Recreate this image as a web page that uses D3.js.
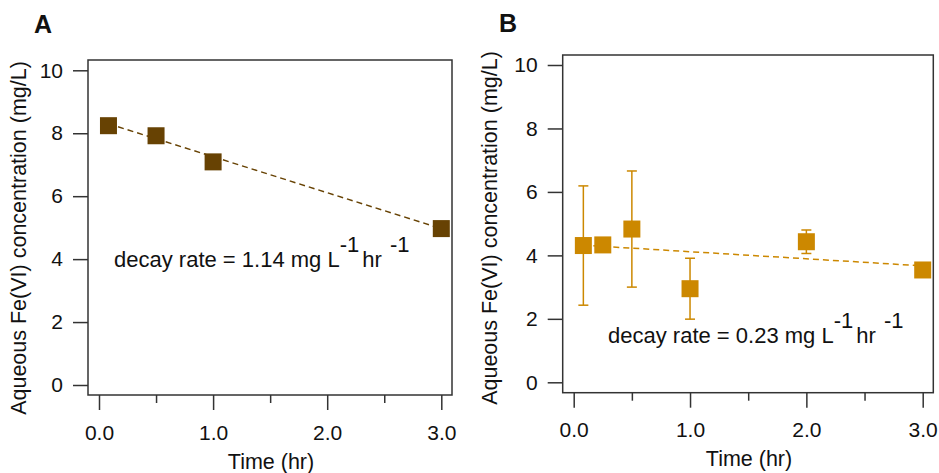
<!DOCTYPE html>
<html>
<head>
  <meta charset="utf-8">
  <script src="https://d3js.org/d3.v7.min.js"></script>
  <style>
    body { margin: 0; background: #fff; }
    svg text { font-family: "Liberation Sans", Arial, sans-serif; fill: #111; }
    .frame { fill: none; stroke: #333; stroke-width: 1.5; }
    .tick line { stroke: #333; stroke-width: 1.5; }
  </style>
</head>
<body>
<div id="chart"></div>
<script>

const width = 939;
const height = 473;

// Panel A values
const timeA = [0.083, 0.5, 1.0, 3.0];
const concA = [8.24, 7.92, 7.09, 4.97];
const fitTimeA = [0.083, 3.0];
const fitConcA = [8.30, 4.97];

// Panel B values (with error bars)
const timeB = [0.083, 0.25, 0.5, 1.0, 2.0, 3.0];
const concB = [4.31, 4.33, 4.83, 2.95, 4.43, 3.54];
const errB = [1.88, 0.05, 1.83, 0.96, 0.37, 0.10];
const fitTimeB = [0.083, 3.0];
const fitConcB = [4.32, 3.67];

// ticks
const xMajor = [0, 1, 2, 3];
const xMinor = [0.5, 1.5, 2.5];
const yTicks = [0, 2, 4, 6, 8, 10];
const xTitle = "Time (hr)";
const yTitle = "Aqueous Fe(VI) concentration (mg/L)";

const svg = d3.select("#chart").append("svg")
    .attr("width", width)
    .attr("height", height);

function drawPanel(p) {
  const x = d3.scaleLinear().domain([0, 3]).range([p.x0, p.x3]);
  const y = d3.scaleLinear().domain([0, 10]).range([p.y0, p.y10]);
  const g = svg.append("g");

  // frame
  g.append("rect").attr("class", "frame")
    .attr("x", p.left).attr("y", p.top)
    .attr("width", p.right - p.left).attr("height", p.bottom - p.top);

  // y axis
  const yAx = g.append("g")
    .attr("transform", `translate(${p.left},0)`)
    .call(d3.axisLeft(y).tickValues(yTicks).tickFormat(d3.format("d"))
      .tickSize(15).tickPadding(10));
  yAx.select(".domain").remove();
  yAx.selectAll("text").style("font-size", "21px");

  // x axis, major + minor
  const xAx = g.append("g")
    .attr("transform", `translate(0,${p.bottom})`)
    .call(d3.axisBottom(x).tickValues(xMajor).tickFormat(d3.format(".1f"))
      .tickSize(15).tickPadding(p.xPad));
  xAx.select(".domain").remove();
  xAx.selectAll("text").style("font-size", "21px");
  const xMin = g.append("g")
    .attr("transform", `translate(0,${p.bottom})`)
    .call(d3.axisBottom(x).tickValues(xMinor).tickFormat("").tickSize(8));
  xMin.select(".domain").remove();

  // titles
  g.append("text")
    .attr("x", (p.left + p.right) / 2 + 1).attr("y", p.xTitleY)
    .attr("text-anchor", "middle").style("font-size", "21.5px")
    .text(xTitle);
  g.append("text")
    .attr("transform", `translate(${p.yTitleX},${p.yTitleY}) rotate(-90)`)
    .attr("text-anchor", "middle").style("font-size", "21.5px")
    .text(yTitle);
  g.append("text")
    .attr("x", p.labelX).attr("y", p.labelY)
    .style("font-size", "25px").style("font-weight", "bold")
    .text(p.label);

  // fit line
  const line = d3.line().x(d => x(d[0])).y(d => y(d[1]));
  g.append("path")
    .datum(d3.zip(p.fitT, p.fitC))
    .attr("d", line)
    .attr("fill", "none")
    .attr("stroke", p.color)
    .attr("stroke-width", 1.5)
    .attr("stroke-dasharray", "6,4");

  const pts = d3.zip(p.t, p.c, p.e || p.t.map(() => 0));

  // error bars
  if (p.e) {
    const eb = g.append("g").attr("stroke", p.color).attr("stroke-width", 1.5);
    pts.forEach(d => {
      if (d[2] < 0.2) return;
      const cx = x(d[0]);
      eb.append("line").attr("x1", cx).attr("x2", cx)
        .attr("y1", y(d[1] - d[2])).attr("y2", y(d[1] + d[2]));
      [d[1] - d[2], d[1] + d[2]].forEach(v => {
        eb.append("line").attr("x1", cx - 5).attr("x2", cx + 5)
          .attr("y1", y(v)).attr("y2", y(v));
      });
    });
  }

  // markers
  const s = 17;
  g.append("g").selectAll("rect")
    .data(pts)
    .join("rect")
    .attr("x", d => x(d[0]) - s / 2)
    .attr("y", d => y(d[1]) - s / 2)
    .attr("width", s).attr("height", s)
    .attr("fill", p.color);

  // decay rate annotation
  const t = g.append("text")
    .attr("x", p.noteX).attr("y", p.noteY)
    .style("font-size", "22px");
  t.append("tspan").text(p.note);
  t.append("tspan").attr("dy", -15).text("-1");
  t.append("tspan").attr("dy", 15).attr("dx", 3).text("hr ");
  t.append("tspan").attr("dy", -15).attr("dx", 2).text("-1");
}

drawPanel({
  label: "A", labelX: 34, labelY: 33,
  left: 88, right: 452, top: 60, bottom: 395,
  x0: 99, x3: 441.3, y0: 385, y10: 70.3, xPad: 15,
  xTitleY: 469, yTitleX: 26, yTitleY: 238,
  t: timeA, c: concA, fitT: fitTimeA, fitC: fitConcA,
  color: "#674203",
  note: "decay rate = 1.14 mg L", noteX: 114, noteY: 267
});

drawPanel({
  label: "B", labelX: 499, labelY: 32,
  left: 562.7, right: 933.3, top: 55, bottom: 392.7,
  x0: 573.7, x3: 922.7, y0: 382.3, y10: 65, xPad: 14,
  xTitleY: 466, yTitleX: 497, yTitleY: 228,
  t: timeB, c: concB, e: errB, fitT: fitTimeB, fitC: fitConcB,
  color: "#cc8800",
  note: "decay rate = 0.23 mg L", noteX: 608, noteY: 343
});

</script>
</body>
</html>
